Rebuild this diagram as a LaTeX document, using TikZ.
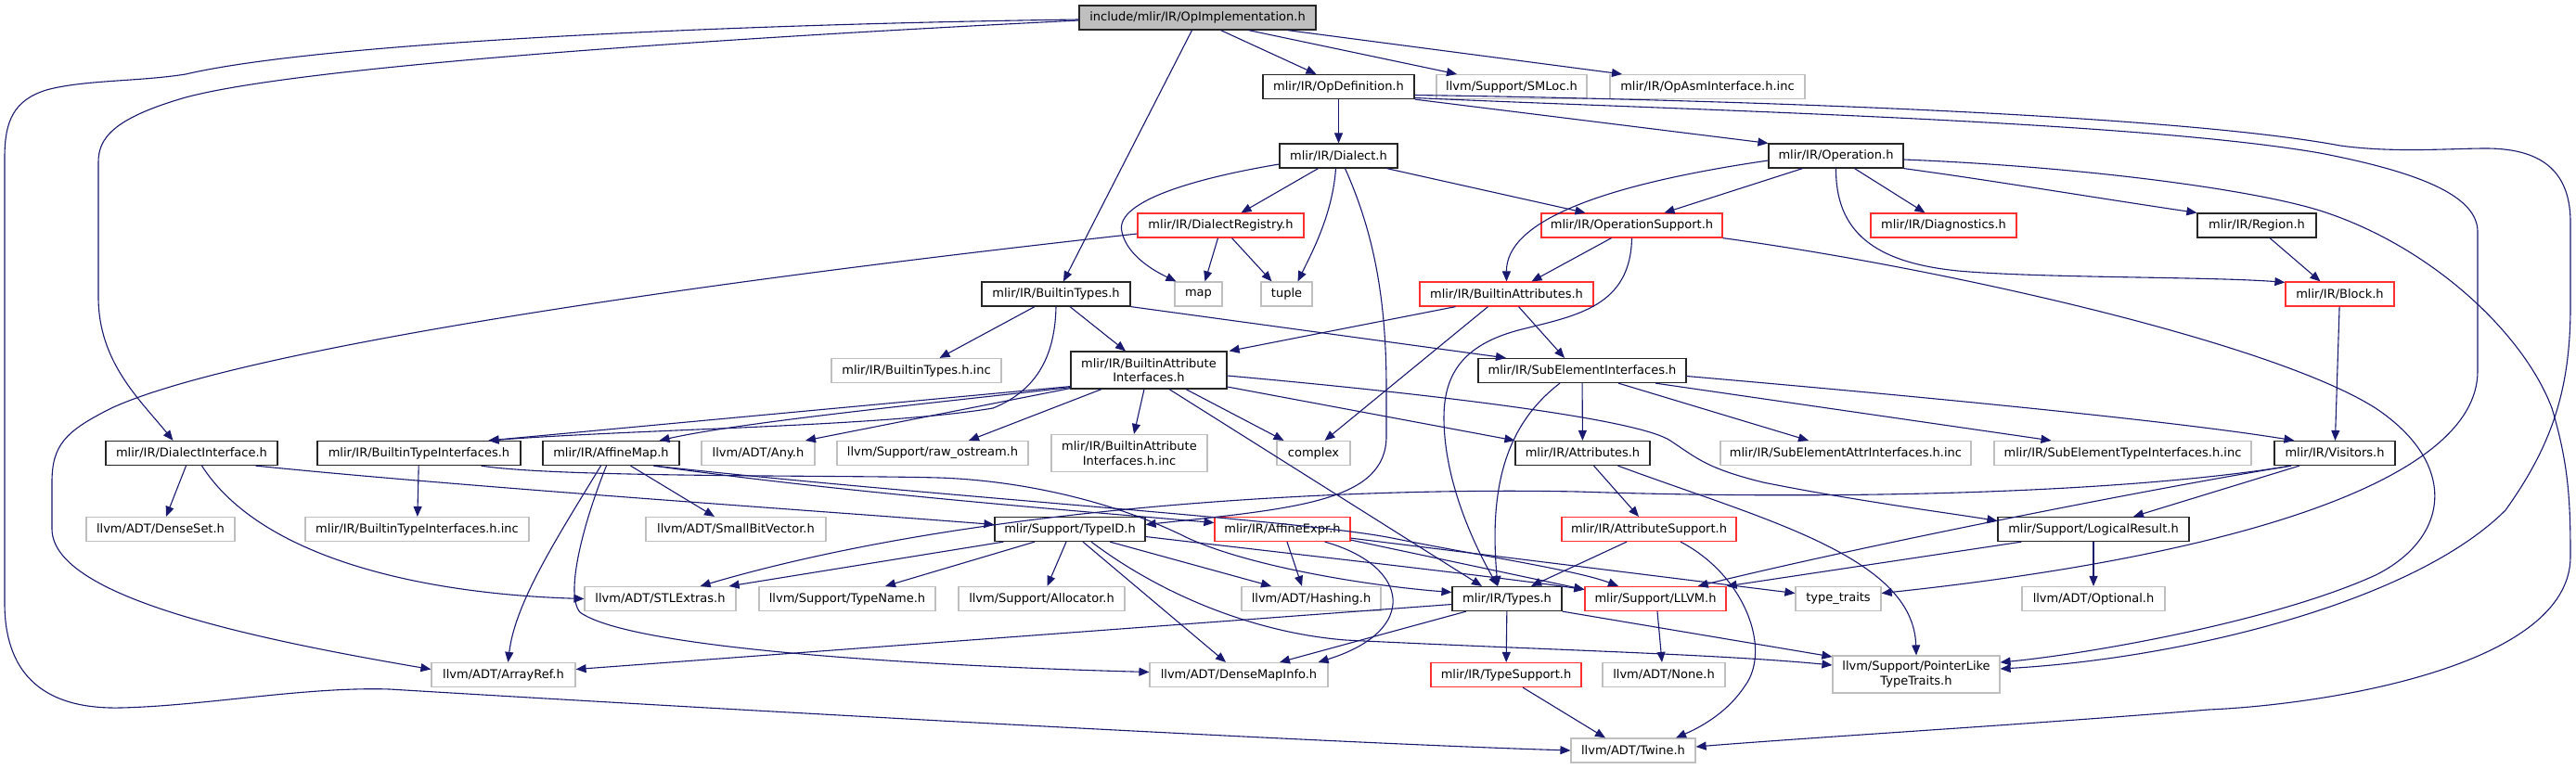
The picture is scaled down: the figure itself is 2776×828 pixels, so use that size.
\documentclass[tikz,border=0pt]{standalone}
\usepackage{fontspec}
\setmainfont{DejaVu Sans}
\usetikzlibrary{arrows.meta,calc}
\definecolor{edgec}{HTML}{191970}
\definecolor{grayb}{HTML}{BFBFBF}
\definecolor{redb}{HTML}{FF3030}
\tikzset{
  box/.style={draw, line width=1.2pt, minimum height=26pt, inner sep=0pt, align=center,
    font=\fontsize{13}{15.5}\selectfont, text=black},
  blk/.style={box, draw=black!85},
  gry/.style={box, draw=grayb},
  rd/.style={box, draw=redb},
  rootbox/.style={box, draw=black!85, fill=grayb},
  e/.style={draw=edgec, line width=1.1pt, -{Triangle[length=11pt,width=9pt]}}
}
\begin{document}
\begin{tikzpicture}[x=1pt,y=-1pt]
\fill[white] (0,0) rectangle (2776,828);
\useasboundingbox (0,0) rectangle (2776,828);
% row 0
\node[rootbox, minimum width=255pt] (OI) at (1290.5,19) {include/mlir/IR/OpImplementation.h};
% row 1
\node[blk, minimum width=163pt] (OD) at (1442.5,93.5) {mlir/IR/OpDefinition.h};
\node[gry, minimum width=162pt] (SMLoc) at (1629,93.5) {llvm/Support/SMLoc.h};
\node[gry, minimum width=210pt] (OpAsm) at (1840,93.5) {mlir/IR/OpAsmInterface.h.inc};
% row 2
\node[blk, minimum width=127pt] (Dialect) at (1442.5,168) {mlir/IR/Dialect.h};
\node[blk, minimum width=145pt] (Operation) at (1978.5,168) {mlir/IR/Operation.h};
% row 3
\node[rd, minimum width=179pt] (DR) at (1315.5,243) {mlir/IR/DialectRegistry.h};
\node[rd, minimum width=195pt] (OS) at (1758.5,243) {mlir/IR/OperationSupport.h};
\node[rd, minimum width=157pt] (Diag) at (2094.5,243) {mlir/IR/Diagnostics.h};
\node[blk, minimum width=128pt] (Region) at (2432,243) {mlir/IR/Region.h};
% row 4
\node[blk, minimum width=160pt] (BT) at (1138,317) {mlir/IR/BuiltinTypes.h};
\node[gry, minimum width=51pt] (map) at (1291.5,317) {map};
\node[gry, minimum width=55pt] (tuple) at (1386.5,317) {tuple};
\node[rd, minimum width=187pt] (BA) at (1623.5,317) {mlir/IR/BuiltinAttributes.h};
\node[rd, minimum width=117pt] (Block) at (2521.5,317) {mlir/IR/Block.h};
% row 5
\node[gry, minimum width=183pt] (BTinc) at (987.5,399.5) {mlir/IR/BuiltinTypes.h.inc};
\node[blk, minimum width=168pt, minimum height=40pt] (BAI) at (1238,399) {mlir/IR/BuiltinAttribute\\Interfaces.h};
\node[blk, minimum width=224pt] (SEI) at (1705,399.5) {mlir/IR/SubElementInterfaces.h};
% row 6
\node[blk, minimum width=185pt] (DI) at (206.5,488.5) {mlir/IR/DialectInterface.h};
\node[blk, minimum width=219pt] (BTI) at (451.5,488.5) {mlir/IR/BuiltinTypeInterfaces.h};
\node[blk, minimum width=147pt] (AM) at (658.5,488.5) {mlir/IR/AffineMap.h};
\node[gry, minimum width=122pt] (Any) at (817,488.5) {llvm/ADT/Any.h};
\node[gry, minimum width=206pt] (raw) at (1005,488.5) {llvm/Support/raw\_ostream.h};
\node[gry, minimum width=168pt, minimum height=40pt] (BAIinc) at (1217,488.5) {mlir/IR/BuiltinAttribute\\Interfaces.h.inc};
\node[gry, minimum width=79pt] (complex) at (1415.5,488.5) {complex};
\node[blk, minimum width=145pt] (Attributes) at (1705.5,488.5) {mlir/IR/Attributes.h};
\node[gry, minimum width=270pt] (SEAI) at (1989,488.5) {mlir/IR/SubElementAttrInterfaces.h.inc};
\node[gry, minimum width=277pt] (SETI) at (2287.5,488.5) {mlir/IR/SubElementTypeInterfaces.h.inc};
\node[blk, minimum width=130pt] (Vis) at (2516,488.5) {mlir/IR/Visitors.h};
% row 7
\node[gry, minimum width=160pt] (DenseSet) at (173,570.5) {llvm/ADT/DenseSet.h};
\node[gry, minimum width=241pt] (BTIinc) at (449.5,570.5) {mlir/IR/BuiltinTypeInterfaces.h.inc};
\node[gry, minimum width=194pt] (SBV) at (793,570.5) {llvm/ADT/SmallBitVector.h};
\node[blk, minimum width=162pt] (TypeID) at (1153,570.5) {mlir/Support/TypeID.h};
\node[rd, minimum width=146pt] (AE) at (1382,570.5) {mlir/IR/AffineExpr.h};
\node[rd, minimum width=188pt] (AS) at (1777,570.5) {mlir/IR/AttributeSupport.h};
\node[blk, minimum width=206pt] (LR) at (2256,570.5) {mlir/Support/LogicalResult.h};
% row 8
\node[gry, minimum width=163pt] (STL) at (711.5,645.5) {llvm/ADT/STLExtras.h};
\node[gry, minimum width=190pt] (TypeName) at (913,645.5) {llvm/Support/TypeName.h};
\node[gry, minimum width=179pt] (Alloc) at (1122.5,645.5) {llvm/Support/Allocator.h};
\node[gry, minimum width=150pt] (Hashing) at (1413,645.5) {llvm/ADT/Hashing.h};
\node[blk, minimum width=118pt] (Types) at (1624,645.5) {mlir/IR/Types.h};
\node[rd, minimum width=152pt] (LLVM) at (1784,645.5) {mlir/Support/LLVM.h};
\node[gry, minimum width=92pt] (tt) at (1981,645.5) {type\_traits};
\node[gry, minimum width=154pt] (Opt) at (2256,645.5) {llvm/ADT/Optional.h};
% row 9
\node[gry, minimum width=155pt] (ArrayRef) at (542.5,727.5) {llvm/ADT/ArrayRef.h};
\node[gry, minimum width=192pt] (DMI) at (1335,727.5) {llvm/ADT/DenseMapInfo.h};
\node[rd, minimum width=162pt] (TypeSupport) at (1623,727.5) {mlir/IR/TypeSupport.h};
\node[gry, minimum width=132pt] (None) at (1793,727.5) {llvm/ADT/None.h};
\node[gry, minimum width=180pt, minimum height=40pt] (PLT) at (2065,727) {llvm/Support/PointerLike\\TypeTraits.h};
% row 10
\node[gry, minimum width=134pt] (Twine) at (1760,809) {llvm/ADT/Twine.h};

% ---------------- edges ----------------
% OpImplementation
\draw[e] ($(OI.south)+(25,0)$) -- ($(OD.north)+(-24,0)$);
\draw[e] ($(OI.south)+(55,0)$) -- ($(SMLoc.north)+(-59,0)$);
\draw[e] ($(OI.south)+(97,0)$) -- ($(OpAsm.north)+(-92,0)$);
\draw[e] ($(OI.south)+(-6,0)$) -- ($(BT.north)+(8,0)$);
\draw[e] ($(OI.west)+(0,3)$) .. controls (800,40) and (330,70) .. (200,105) .. controls (120,128) and (106,150) .. (106,175) -- (106,320) .. controls (106,390) and (150,430) .. ($(DI.north)+(-20,0)$);
\draw[e] ($(OI.west)+(0,2)$) .. controls (800,26) and (350,45) .. (200,80) .. controls (150,88) and (90,86) .. (50,97) .. controls (15,108) and (5,130) .. (5,170) -- (5,650) .. controls (5,720) and (40,765) .. (130,763) .. controls (220,761) and (330,740) .. (420,743) .. controls (700,760) and (1400,800) .. (Twine.west);
% OpDefinition
\draw[e] (OD) -- (Dialect);
\draw[e] (OD.south east) -- (Operation.north west);
\draw[e] ($(OD.east)+(0,9)$) .. controls (1900,108) and (2350,125) .. (2522,157) .. controls (2580,165) and (2640,160) .. (2679,160) .. controls (2745,160) and (2770,190) .. (2770,240) -- (2770,330) .. controls (2770,420) and (2750,480) .. (2700,550) .. controls (2600,650) and (2350,710) .. ($(PLT.east)+(0,-6)$);
\draw[e] ($(OD.east)+(0,12)$) .. controls (1800,118) and (2300,130) .. (2500,165) .. controls (2620,188) and (2670,215) .. (2670,250) -- (2670,400) .. controls (2670,520) and (2400,600) .. ($(tt.east)+(0,-6)$);
% Dialect
\draw[e] ($(Dialect.south)+(-22,0)$) -- ($(DR.north)+(22,0)$);
\draw[e] ($(Dialect.west)+(0,9)$) .. controls (1300,190) and (1200,215) .. (1209,250) .. controls (1215,278) and (1250,295) .. ($(map.north)+(-24,0)$);
\draw[e] ($(Dialect.south)+(-3,0)$) .. controls (1436,230) and (1415,270) .. ($(tuple.north)+(12,0)$);
\draw[e] ($(Dialect.south)+(52,0)$) -- ($(OS.north)+(-50,0)$);
\draw[e] ($(Dialect.south)+(7,0)$) .. controls (1480,250) and (1494,320) .. (1494,420) -- (1494,470) .. controls (1494,540) and (1400,548) .. ($(TypeID.east)+(0,-5)$);
% DialectRegistry
\draw[e] ($(DR.south)+(-3,0)$) -- ($(map.north)+(7,0)$);
\draw[e] ($(DR.south)+(12,0)$) -- ($(tuple.north)+(-16,0)$);
\draw[e] ($(DR.west)+(0,9)$) .. controls (700,310) and (250,380) .. (120,440) .. controls (70,465) and (56,480) .. (56,520) -- (56,570) .. controls (56,640) and (250,685) .. ($(ArrayRef.west)+(0,-6)$);
% Operation
\draw[e] ($(Operation.south)+(-36,0)$) -- ($(OS.north)+(35,0)$);
\draw[e] ($(Operation.south)+(20,0)$) -- ($(Diag.north)+(-20,0)$);
\draw[e] (Operation.south east) .. controls (2150,195) and (2250,212) .. (Region.north west);
\draw[e] (Operation.south) .. controls (1978,250) and (2020,283) .. (2110,292) .. controls (2200,300) and (2380,298) .. ($(Block.north west)+(0,1)$);
\draw[e] ($(Operation.west)+(0,5)$) .. controls (1720,200) and (1623,240) .. (BA.north);
\draw[e] ($(Operation.east)+(0,4)$) .. controls (2250,180) and (2430,205) .. (2500,227) .. controls (2620,265) and (2720,360) .. (2750,440) .. controls (2768,500) and (2770,540) .. (2770,600) .. controls (2770,720) and (2500,760) .. (2380,765) .. controls (2200,780) and (1950,795) .. ($(Twine.east)+(0,-4)$);
% OperationSupport
\draw[e] ($(OS.south)+(-22,0)$) -- ($(BA.north)+(27,0)$);
\draw[e] (OS.south) .. controls (1757,330) and (1700,340) .. (1640,355) .. controls (1580,370) and (1556,400) .. (1556,450) .. controls (1556,520) and (1590,590) .. ($(Types.north)+(-10,0)$);
\draw[e] (OS.south east) .. controls (2100,290) and (2450,370) .. (2560,440) .. controls (2650,500) and (2640,580) .. (2560,620) .. controls (2450,670) and (2250,705) .. ($(PLT.east)+(0,-13)$);
% BuiltinTypes
\draw[e] ($(BT.south)+(-23,0)$) -- ($(BTinc.north)+(25,0)$);
\draw[e] ($(BT.south)+(15,0)$) -- ($(BAI.north)+(-25,0)$);
\draw[e] (BT.south east) -- ($(SEI.north)+(-82,0)$);
\draw[e] (BT.south) .. controls (1137,380) and (1120,420) .. (1070,440) .. controls (950,460) and (700,462) .. ($(BTI.north)+(75,0)$);
% BuiltinAttributes
\draw[e] ($(BA.south)+(-55,0)$) -- ($(BAI.north east)+(2,0)$);
\draw[e] ($(BA.south)+(13,0)$) -- ($(SEI.north)+(-19,0)$);
\draw[e] ($(BA.south)+(-20,0)$) -- ($(complex.north)+(12,0)$);
% BuiltinAttributeInterfaces
\draw[e] ($(BAI.south west)+(0,-3)$) -- ($(BTI.north)+(75,0)$);
\draw[e] ($(BAI.south west)+(0,-2)$) .. controls (1000,435) and (800,455) .. ($(AM.north)+(52,0)$);
\draw[e] ($(BAI.south west)+(0,-1)$) -- ($(Any.north)+(51,0)$);
\draw[e] ($(BAI.south)+(-51,0)$) -- ($(raw.north)+(39,0)$);
\draw[e] ($(BAI.south)+(-5,0)$) -- ($(BAIinc.north)+(5,0)$);
\draw[e] ($(BAI.south)+(40,0)$) -- ($(complex.north)+(-32,0)$);
\draw[e] ($(BAI.south)+(22,0)$) -- ($(Types.north)+(-27,0)$);
\draw[e] ($(BAI.east)+(0,18)$) -- (Attributes.north west);
\draw[e] ($(BAI.east)+(0,6)$) .. controls (1600,430) and (1770,455) .. (1800,475) .. controls (1830,495) and (1840,505) .. (1900,520) .. controls (2000,540) and (2100,553) .. ($(LR.west)+(0,-9)$);
% SubElementInterfaces
\draw[e] (SEI) -- (Attributes);
\draw[e] ($(SEI.south)+(-24,0)$) .. controls (1620,460) and (1605,530) .. ($(Types.north)+(-10,0)$);
\draw[e] ($(SEI.south)+(39,0)$) -- ($(SEAI.north)+(-40,0)$);
\draw[e] ($(SEI.south)+(79,0)$) -- ($(SETI.north)+(-77,0)$);
\draw[e] ($(SEI.east)+(0,6)$) .. controls (2100,430) and (2350,455) .. ($(Vis.north west)+(22,0)$);
% AffineMap
\draw[e] ($(AM.south)+(-11,0)$) .. controls (600,580) and (555,650) .. ($(ArrayRef.north)+(5,0)$);
\draw[e] ($(AM.south)+(-5,0)$) .. controls (630,560) and (608,640) .. (625,660) .. controls (680,700) and (1000,718) .. ($(DMI.west)+(0,-3)$);
\draw[e] ($(AM.south)+(21,0)$) -- ($(SBV.north)+(-23,0)$);
\draw[e] ($(AM.south)+(46,0)$) .. controls (900,530) and (1150,550) .. ($(AE.west)+(0,-7)$);
\draw[e] ($(AM.south)+(46,0)$) .. controls (1000,535) and (1400,560) .. (1500,580) .. controls (1600,600) and (1700,615) .. ($(LLVM.north)+(-40,0)$);
% BuiltinTypeInterfaces
\draw[e] (BTI) -- (BTIinc);
\draw[e] ($(BTI.south)+(67,0)$) .. controls (600,515) and (900,512) .. (1012,515) .. controls (1100,518) and (1200,540) .. (1280,580) .. controls (1350,612) and (1480,632) .. ($(Types.west)+(0,-7)$);
% DialectInterface
\draw[e] ($(DI.south)+(-6,0)$) -- ($(DenseSet.north)+(6,0)$);
\draw[e] ($(DI.south)+(11,0)$) .. controls (280,600) and (450,640) .. (STL.west);
\draw[e] ($(DI.south)+(69,0)$) .. controls (500,525) and (900,552) .. ($(TypeID.west)+(0,-5)$);
% TypeID
\draw[e] ($(TypeID.south west)+(10,0)$) -- ($(STL.north east)+(-8,0)$);
\draw[e] ($(TypeID.south)+(-38,0)$) -- ($(TypeName.north)+(41,0)$);
\draw[e] ($(TypeID.south)+(-4,0)$) -- ($(Alloc.north)+(6,0)$);
\draw[e] ($(TypeID.south)+(14,0)$) -- ($(DMI.north)+(-14,0)$);
\draw[e] ($(TypeID.south)+(43,0)$) -- ($(Hashing.north)+(-43,0)$);
\draw[e] ($(TypeID.east)+(0,8)$) .. controls (1400,598) and (1600,620) .. ($(LLVM.west)+(0,-10)$);
\draw[e] ($(TypeID.south)+(23,0)$) .. controls (1250,640) and (1350,682) .. (1450,690) .. controls (1650,700) and (1850,705) .. ($(PLT.west)+(0,-10)$);
% AffineExpr
\draw[e] ($(AE.south)+(5,0)$) -- ($(Hashing.north)+(-10,0)$);
\draw[e] ($(AE.south east)+(-28,0)$) .. controls (1520,610) and (1530,680) .. ($(DMI.north east)+(-11,0)$);
\draw[e] ($(AE.south east)+(0,-2)$) -- ($(LLVM.west)+(0,-10)$);
\draw[e] ($(AE.south east)+(0,-4)$) -- ($(tt.west)+(0,-6)$);
% Types
\draw[e] (Types) -- (TypeSupport);
\draw[e] ($(Types.west)+(0,6)$) -- ($(ArrayRef.east)+(0,-6)$);
\draw[e] ($(Types.south)+(-44,0)$) -- ($(DMI.north)+(44,0)$);
\draw[e] (Types.south east) -- ($(PLT.west)+(0,-19)$);
% Attributes
\draw[e] ($(Attributes.south)+(12,0)$) -- ($(AS.north)+(-11,0)$);
\draw[e] ($(Attributes.south)+(38,0)$) .. controls (1900,560) and (2062,600) .. (PLT.north);
% AttributeSupport
\draw[e] ($(AS.south)+(-24,0)$) -- ($(Types.north)+(26,0)$);
\draw[e] ($(AS.south)+(34,0)$) .. controls (1880,620) and (1910,700) .. (1880,740) .. controls (1860,770) and (1830,785) .. ($(Twine.north)+(46,0)$);
% TypeSupport, LLVM
\draw[e] ($(TypeSupport.south)+(18,0)$) -- ($(Twine.north)+(-30,0)$);
\draw[e] ($(LLVM.south)+(2,0)$) -- ($(None.north)+(-2,0)$);
% LogicalResult
\draw[e] ($(LR.south west)+(26,0)$) -- (LLVM.north east);
\draw[e] (LR) -- (Opt);
% Visitors
\draw[e] ($(Vis.south)+(-38,0)$) -- ($(LR.north)+(43,0)$);
\draw[e] ($(Vis.south)+(-47,0)$) .. controls (2300,530) and (2000,590) .. ($(LLVM.north east)+(-31,0)$);
\draw[e] ($(Vis.south)+(-47,0)$) .. controls (2300,530) and (2000,540) .. (1700,530) .. controls (1450,525) and (1050,545) .. ($(STL.north east)+(-39,0)$);
% Block, Region
\draw[e] (Block) -- (Vis);
\draw[e] ($(Region.south)+(14,0)$) -- ($(Block.north)+(-21,0)$);
\end{tikzpicture}
\end{document}
